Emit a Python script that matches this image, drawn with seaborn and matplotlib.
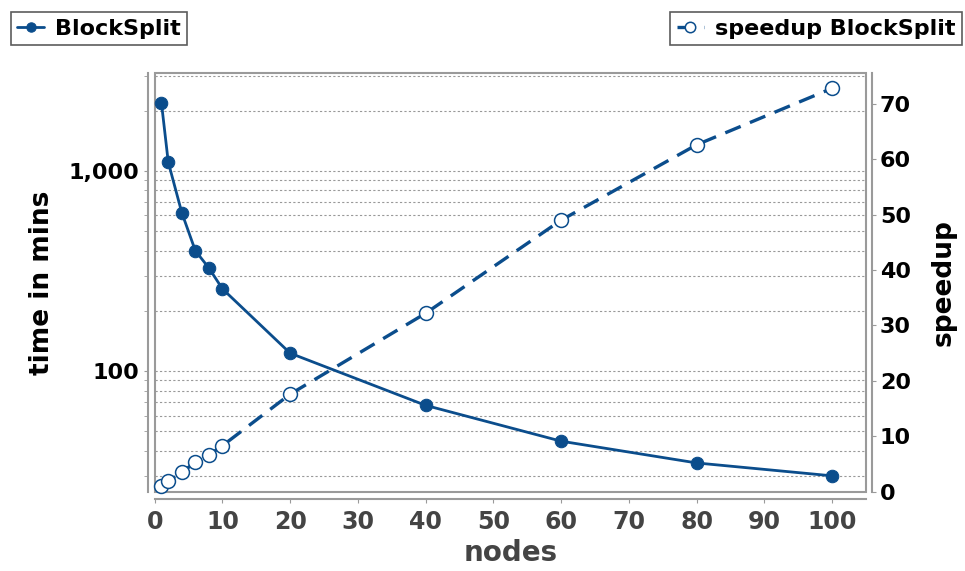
import numpy as np
import pandas as pd
import matplotlib
matplotlib.use("Agg")
import matplotlib.pyplot as plt
from matplotlib.patches import Rectangle
from matplotlib.ticker import LogLocator, FuncFormatter, NullFormatter
import seaborn as sns

# data
nodes = [1, 2, 4, 6, 8, 10, 20, 40, 60, 80, 100]
time_mins = [2190, 1110, 620, 400, 328, 258, 123, 67.5, 44.7, 34.8, 30]
speedup = [1, 1.9, 3.5, 5.3, 6.6, 8.3, 17.6, 32.2, 49.0, 62.6, 72.8]
speed_ticks = [0, 10, 20, 30, 40, 50, 60, 70]

BLUE = "#0b4d8c"
FRAME = "#9a9a9a"

sns.set_style("white")
plt.rcParams['font.family'] = ['DejaVu Sans']
plt.rcParams['font.weight'] = 'bold'
plt.rcParams['text.color'] = 'black'

df = pd.DataFrame({'nodes': nodes, 'time': time_mins, 'speedup': speedup})

fig = plt.figure(figsize=(9.65, 5.71), dpi=100)
ax = fig.add_axes([0.1603, 0.1389, 0.8974 - 0.1603, 0.8716 - 0.1389])
ax2 = ax.twinx()

ax.set_yscale('log')
ax.set_xlim(0, 105)
ax.set_ylim(25, 3080)
ax2.set_ylim(0, 75.5)

# dashed grid on the log scale (major + minor)
ax.yaxis.set_major_locator(LogLocator(base=10, numticks=10))
ax.yaxis.set_minor_locator(LogLocator(base=10, subs=np.arange(2, 10), numticks=20))
ax.yaxis.set_major_formatter(FuncFormatter(lambda v, p: f"{int(round(v)):,}"))
ax.yaxis.set_minor_formatter(NullFormatter())
ax.grid(True, which='both', axis='y', color='#999999', linestyle=(0, (2, 2)), linewidth=0.8)
ax.grid(False, axis='x')
ax.set_zorder(ax2.get_zorder() - 1)
ax.patch.set_visible(False)

sns.lineplot(data=df, x='nodes', y='time', ax=ax, color=BLUE, linewidth=2.0,
             marker='o', markersize=9, markeredgecolor=BLUE, markerfacecolor=BLUE,
             label='BlockSplit', legend=False, clip_on=False)
sns.lineplot(data=df, x='nodes', y='speedup', ax=ax2, color=BLUE, linewidth=2.4,
             marker='o', markersize=10, markeredgecolor=BLUE, markerfacecolor='white',
             markeredgewidth=1.1, label='speedup BlockSplit', legend=False, clip_on=False)
ax2.lines[0].set_dashes([5, 3])

ax.set_xticks(range(0, 101, 10))
ax2.set_yticks(speed_ticks)

# spines: detached axis lines + gray frame
for a in (ax, ax2):
    for s in a.spines.values():
        s.set_visible(False)
for name in ('left', 'bottom'):
    ax.spines[name].set_visible(True)
    ax.spines[name].set_position(('outward', 5))
    ax.spines[name].set_color(FRAME)
    ax.spines[name].set_linewidth(1.5)
ax2.spines['right'].set_visible(True)
ax2.spines['right'].set_position(('outward', 4))
ax2.spines['right'].set_color(FRAME)
ax2.spines['right'].set_linewidth(1.5)
ax.add_patch(Rectangle((0, 0), 1, 1, transform=ax.transAxes, fill=False,
                       edgecolor=FRAME, linewidth=1.5, clip_on=False, zorder=0))

ax.tick_params(axis='x', which='both', bottom=True, length=3, color=FRAME,
               labelsize=17, labelcolor='#444444', pad=5)
ax.tick_params(axis='y', which='both', left=True, length=3, color=FRAME,
               labelsize=16, labelcolor='black', pad=3)
ax2.tick_params(axis='y', right=True, length=3, color=FRAME, labelsize=16,
                labelcolor='black', pad=3)
ax2.tick_params(axis='y', which='minor', right=False)

ax.set_xlabel('nodes', fontsize=20, fontweight='bold', color='#444444', labelpad=4)
ax.set_ylabel('time in mins', fontsize=19, fontweight='bold', color='black', labelpad=10)
ax2.set_ylabel('speedup', fontsize=19, fontweight='bold', color='black', labelpad=14)

# legends outside at the top corners
leg_kw = dict(frameon=True, fancybox=False, edgecolor='#333333', borderpad=0.3,
              borderaxespad=0.0, handlelength=1.2, handletextpad=0.5, markerscale=0.75,
              labelcolor='black', prop={'weight': 'bold', 'size': 16})
h1, l1 = ax.get_legend_handles_labels()
h2, l2 = ax2.get_legend_handles_labels()
leg1 = fig.legend(h1, l1, loc='upper left', bbox_to_anchor=(0.011, 0.979), **leg_kw)
leg2 = fig.legend(h2, l2, loc='upper right', bbox_to_anchor=(0.997, 0.979), **leg_kw)
for leg in (leg1, leg2):
    leg.get_frame().set_linewidth(1.2)

fig.savefig('out.png', dpi=100)
